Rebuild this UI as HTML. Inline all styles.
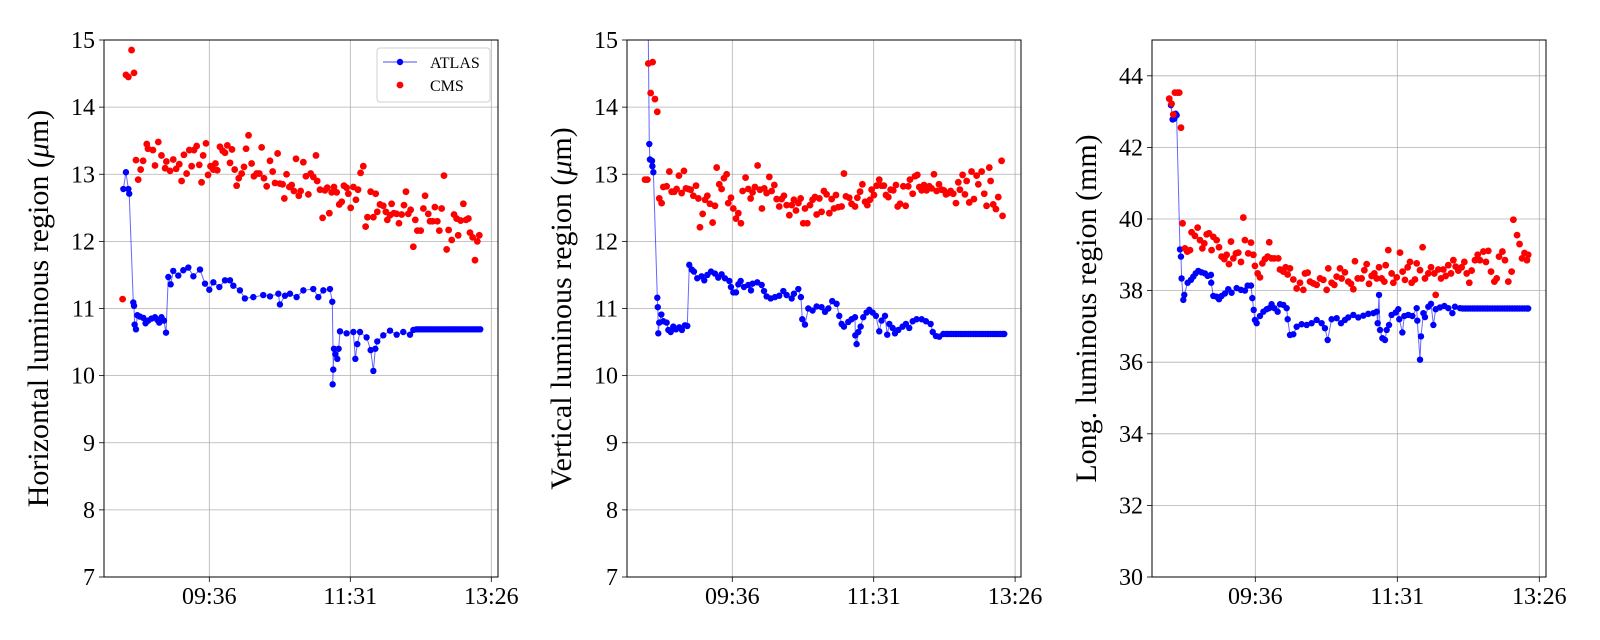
<!DOCTYPE html>
<html><head><meta charset="utf-8">
<style>
html,body{margin:0;padding:0;background:#fff;}
svg{display:block;font-family:"Liberation Serif","DejaVu Serif",serif;}
</style></head>
<body>
<svg id="fig" width="1600" height="640" viewBox="0 0 1600 640" xmlns="http://www.w3.org/2000/svg"></svg>
<script>
// ---------- shared tick data ----------
const xTickMinutes = [576, 691, 806];
const xTickLabels = ["09:36", "11:31", "13:26"];

// ---------- panel 1: horizontal (um) ----------
const p1AtlasT = [505.9,508,510,510.7,514,514.6,515.1,516.2,517.3,519.4,522.2,524,526.2,528.9,531.7,533.6,535.2,537,539,540.7,542.6,544.5,546.6,550.7,554.8,558.9,563,568.4,572.5,576,579.3,584.2,588.8,592.9,595.6,601,605,611.9,620,625.5,632.3,633.6,637.7,641.8,647.2,652.7,660.8,664.9,669,674.4,676.3,677.1,676.6,677.7,678.8,680.4,681.5,682.6,688,693.5,695.1,696.7,698.9,704.3,707.6,709.8,711.4,713,717.9,723.4,728.8,734.2,739.7,742.4,745,747,749,751,753,755,757,759,761,763,765,767,769,771,773,775,777,779,781,783,785,787,789,791,793,795,797];
const p1AtlasV = [12.78,13.03,12.78,12.71,11.09,11.04,10.76,10.69,10.90,10.88,10.86,10.78,10.82,10.85,10.87,10.83,10.79,10.87,10.82,10.64,11.47,11.36,11.56,11.49,11.57,11.61,11.48,11.58,11.37,11.28,11.39,11.32,11.42,11.42,11.34,11.27,11.15,11.17,11.20,11.18,11.22,11.06,11.19,11.22,11.17,11.27,11.29,11.17,11.27,11.29,11.10,10.09,9.87,10.40,10.32,10.25,10.40,10.66,10.63,10.65,10.25,10.47,10.65,10.57,10.38,10.07,10.40,10.51,10.60,10.67,10.61,10.65,10.61,10.68,10.69,10.69,10.69,10.69,10.69,10.69,10.69,10.69,10.69,10.69,10.69,10.69,10.69,10.69,10.69,10.69,10.69,10.69,10.69,10.69,10.69,10.69,10.69,10.69,10.69,10.69,10.69,10.69];
const p1CmsT = [505.3,508,510,512.6,514.6,516.2,518,520,522,525,526,530,531.7,534.4,537,540,541,544,546.6,549,551.5,553.4,555.3,557.5,559.7,561.6,563.5,565.7,567.8,569.7,571,573.3,575,577,579.3,581,582.5,584.7,586.9,588.8,590.7,592.9,594.5,596.7,598.3,600,602.4,604.3,606,608,610.5,612.4,614.6,616.8,618.7,620.6,622.8,625.5,627.7,629.6,631.7,633.6,635.8,637.2,639,641.3,643.2,645,646.7,649,650.5,652.7,654.8,656.8,658.7,660.8,663,664,666.3,668.4,670.3,672.2,673.9,675.8,677.7,679.9,682,684,685.8,688,689.4,691.3,693.5,695.6,697.3,699.4,701.6,703.5,705,707.6,709.8,711.7,713,715.2,717.9,720,721.2,723.4,724.7,726.6,728.8,730.7,732.9,734.8,736.4,738.3,740.2,742.4,744,745.7,748.4,750.6,752,754.6,756,758.2,760,762,763.6,765.5,767.4,769.6,771.2,773.7,775.6,777.7,779,781,783.2,785.4,787.3,788.6,790.8,792.7,794.6,796.2];
const p1CmsV = [11.14,14.48,14.45,14.85,14.51,13.21,12.92,13.07,13.2,13.45,13.38,13.36,13.13,13.48,13.28,13.09,13.19,13.05,13.22,13.08,13.15,12.9,13.29,13.01,13.36,13.12,13.36,13.42,13.14,12.88,13.28,13.46,12.99,13.12,13.07,13.16,13.06,13.41,13.35,13.32,13.43,13.17,13.37,13.07,12.83,12.94,13.01,13.11,13.38,13.58,13.16,12.97,13.01,13.01,13.4,12.94,12.82,13.2,13.04,12.87,13.31,12.86,12.85,12.64,13.0,12.81,12.84,12.75,13.23,12.68,12.75,13.18,12.97,12.7,13.01,12.96,13.28,12.9,12.77,12.35,12.76,12.8,12.42,12.73,12.81,12.73,12.55,12.59,12.83,12.8,12.71,12.5,12.81,12.62,12.77,13.02,13.12,12.22,12.36,12.74,12.36,12.71,12.44,12.55,12.53,12.44,12.32,12.39,12.56,12.42,12.41,12.27,12.4,12.54,12.74,12.41,12.47,11.92,12.32,12.16,12.16,12.49,12.68,12.41,12.3,12.3,12.51,12.3,12.16,12.49,12.98,11.88,12.17,12.02,12.4,12.34,12.09,12.31,12.56,12.32,12.34,12.13,12.06,11.72,12.0,12.09];

// ---------- panel 2: vertical (um) ----------
const p2AtlasT = [507.2,508.5,509,510.7,511,511.8,515,515.4,515.8,516.6,518.3,519.9,522.6,524,525.9,528,530.2,532.9,535,537.5,539.4,541,543,544.8,547.5,551,553.2,555.7,558.7,561.9,564.6,567.3,570,573.6,574.9,576.8,579,580.9,582.8,585.5,589,591.2,592.5,596.3,599.9,601.8,603.9,607.2,610.7,614.2,617.5,620.2,624.3,626.1,629.7,631.8,632.9,635.1,637.8,641.3,644.6,648.6,651.4,654.1,657.3,660.8,663,664.9,666.8,670.3,673,675.8,676,677.1,678.5,680.4,682.5,685.2,687.4,690.1,692.8,695.5,697.4,700.2,702,703.7,706.4,708.3,711,714.5,717.2,719.9,722.7,725.9,730,733.5,737.3,739,741.6,744.3,747.6,750,752,754,756,758,760,762,764,766,768,770,772,774,776,778,780,782,784,786,788,790,792,794,796,797.2];
const p2AtlasV = [16.0,13.45,13.22,13.2,13.12,13.03,11.16,11.02,10.63,10.79,10.91,10.81,10.79,10.68,10.65,10.73,10.69,10.72,10.68,10.75,10.74,11.65,11.58,11.55,11.45,11.48,11.42,11.5,11.55,11.52,11.46,11.51,11.45,11.41,11.32,11.24,11.24,11.36,11.41,11.32,11.35,11.27,11.37,11.39,11.35,11.26,11.18,11.15,11.17,11.19,11.26,11.2,11.15,11.22,11.29,11.17,10.84,10.76,11.0,10.97,11.03,11.02,10.95,11.0,11.11,11.07,10.89,10.77,10.73,10.8,10.84,10.87,10.6,10.47,10.65,10.73,10.87,10.94,10.98,10.94,10.89,10.66,10.82,10.89,10.61,10.77,10.71,10.63,10.68,10.73,10.77,10.71,10.81,10.84,10.84,10.81,10.77,10.65,10.59,10.58,10.62,10.62,10.62,10.62,10.62,10.62,10.62,10.62,10.62,10.62,10.62,10.62,10.62,10.62,10.62,10.62,10.62,10.62,10.62,10.62,10.62,10.62,10.62,10.62,10.62,10.62];
const p2CmsT = [505,506.9,507.7,509.6,511.2,513.1,515,516.6,518.5,519.9,522.6,524.8,526.7,528.8,530.7,532.6,534.8,536.7,538.3,540.2,542.1,544.3,546.5,548.4,549.7,551.9,553.8,555.7,557.8,560,561.9,563.3,565.4,567.3,569.2,571.4,572.7,574.9,576.8,579,580.9,583,584.4,586.8,589,590.9,592.5,594.4,596.6,598.5,600.1,602,603.9,606.1,608,610.2,612.1,614.2,616.1,618,620.2,622.4,624.3,626.1,627.8,629.7,631.6,633.7,635.1,637,639.2,641.3,643.2,644.6,646.8,648.6,650.5,652.7,654.9,656.8,658.7,660.3,662.2,664.9,666.8,668.4,671.1,673,675.8,677.7,679.9,681.8,684,685.8,688,689.3,691.2,693.4,695.5,697.4,699.3,701,702.9,704.8,706.9,709.1,710.5,712.4,715.1,717,719.1,720.5,722.7,724.6,726.5,728.1,730,731.9,734,736.2,738.1,740,742.2,744.1,746.2,748.1,749.8,751.7,753.6,755.7,757.9,759.8,761.1,763.3,765.2,766.6,768.7,770.6,772.5,774.7,776.1,778.8,780.9,782.8,785,786.1,788.2,790.4,792.3,795,795.8];
const p2CmsV = [12.92,12.92,14.65,14.21,14.67,14.12,13.93,12.64,12.57,12.81,12.82,13.04,12.74,12.74,12.78,12.98,12.72,13.05,12.79,12.78,12.77,12.68,12.83,12.64,12.21,12.41,12.62,12.68,12.56,12.28,12.53,13.1,12.85,12.78,12.94,13.0,12.57,12.65,12.49,12.34,12.42,12.27,12.75,12.95,12.78,12.64,12.73,12.81,13.13,12.77,12.49,12.79,12.72,12.96,12.75,12.84,12.63,12.52,12.63,12.68,12.54,12.39,12.54,12.62,12.46,12.57,12.64,12.27,12.49,12.27,12.54,12.62,12.66,12.4,12.64,12.44,12.75,12.7,12.42,12.63,12.49,12.69,12.51,12.52,13.01,12.67,12.65,12.56,12.52,12.65,12.74,12.85,12.59,12.54,12.62,12.77,12.69,12.83,12.92,12.83,12.83,12.69,12.66,12.77,12.76,12.84,12.52,12.56,12.82,12.53,12.82,12.92,12.71,12.97,12.99,12.81,12.76,12.84,12.76,12.82,12.79,13.0,12.75,12.85,12.77,12.76,12.7,12.72,12.75,12.71,12.57,12.88,12.77,12.99,12.7,12.9,12.58,13.04,12.63,12.98,12.85,13.04,12.71,12.53,13.1,12.9,12.55,12.48,12.66,13.2,12.38];

// ---------- panel 3: longitudinal (mm) ----------
const p3AtlasT = [507.7,509,510.4,511.5,512.3,515,515.8,516.3,517.7,518.5,521.2,523.9,525.8,527.7,529.8,532.5,535.2,537.4,540.1,540.3,542,544.7,546.6,548.7,551.4,554.1,556.8,560.9,564.4,567.6,569.8,572.5,573.6,574.7,575.7,577.1,579.8,582.5,585.2,587.3,589.2,591.4,594.1,596,598.7,601.4,602.2,604.1,606.8,609.5,613.5,617.6,621.6,625.7,629.7,632.4,634.6,637.8,641.9,645.4,648.6,651.3,655.4,659.4,663.5,667.5,671.6,674.3,675.1,676.2,677,678.9,681,682.4,684.3,686.4,689.7,691.8,692.6,695.1,696.7,699.9,703.2,706.7,707.2,709.4,710.2,712.1,713.4,716.1,718.3,720.2,722.1,725.6,729.1,732.3,735.6,737.7,741.8,744,746,748,750,752,754,756,758,760,762,764,766,768,770,772,774,776,778,780,782,784,786,788,790,792,794,796,797];
const p3AtlasV = [43.18,42.78,42.8,42.94,42.9,39.15,38.95,38.34,37.74,37.88,38.22,38.3,38.39,38.48,38.55,38.51,38.48,38.41,38.44,38.22,37.85,37.83,37.76,37.85,37.92,38.04,37.94,38.07,38.02,38.0,38.14,38.14,37.79,37.46,37.18,37.09,37.29,37.41,37.48,37.51,37.62,37.51,37.41,37.62,37.6,37.51,37.2,36.76,36.78,36.99,37.06,37.04,37.09,37.18,37.09,36.95,36.62,37.2,37.23,37.09,37.18,37.25,37.32,37.25,37.3,37.35,37.37,37.41,37.09,37.88,36.9,36.67,36.62,36.9,37.04,37.32,37.39,37.48,37.2,36.83,37.29,37.32,37.29,37.51,37.16,36.07,36.72,37.37,37.26,37.55,37.63,37.04,37.48,37.53,37.57,37.51,37.37,37.55,37.51,37.5,37.5,37.5,37.5,37.5,37.5,37.5,37.5,37.5,37.5,37.5,37.5,37.5,37.5,37.5,37.5,37.5,37.5,37.5,37.5,37.5,37.5,37.5,37.5,37.5,37.5,37.5,37.5];
const p3CmsT = [506.3,508.2,509.6,510.9,513.1,514.4,515.8,517.1,519,520.9,523.1,524.4,527.1,529.3,531.2,533.1,534.7,536.6,538.5,540.6,542,544.7,546.6,548.7,550.9,552.8,554.7,556.3,558.2,560.3,562.2,564.4,566.3,567.6,570.3,572.5,574.4,575.7,577.9,579.8,581.7,583.8,586,587.3,589.2,591.4,594.6,596,598.7,600.6,602.2,604.1,606.8,609.5,612.2,614.9,616.2,618.4,620.3,623,625.7,628.4,631.1,633.8,635.1,637.8,640,641.9,644.6,645.9,648.6,651.3,653.5,655.4,656.7,658.9,662.1,664.3,666.2,668.1,670.2,672.4,674.3,676.2,678.3,680.5,681.6,683.7,686.4,687.8,690.5,693.2,695.3,697.2,699.4,701.3,702.6,705.3,706.7,709.4,711.5,713.4,716.1,718.3,721,722.1,724.2,726.4,728.3,730.2,732.3,734.5,736.4,738.3,740.4,743.1,745.3,747.2,749.3,751.2,753.9,756.1,757.9,760.7,762.8,764.7,766.9,769.6,771.5,773.4,776.1,778.2,780.9,783.6,785,788,790,792,794,796,797];
const p3CmsV = [43.36,43.22,42.92,43.53,43.53,43.53,42.55,39.88,39.18,39.09,39.13,39.63,39.53,39.76,39.41,39.18,39.32,39.57,39.6,39.13,39.5,39.41,39.21,38.95,38.88,39.0,38.74,39.37,38.9,39.04,39.06,38.8,40.04,39.41,39.04,39.34,39.0,38.69,38.48,38.37,38.76,38.88,38.95,39.35,38.9,38.9,38.9,38.59,38.53,38.65,38.45,38.62,38.31,38.06,38.22,38.02,38.48,38.5,38.25,38.2,38.16,38.34,38.3,38.02,38.62,38.22,38.16,38.39,38.62,38.34,38.51,38.25,38.19,38.04,38.82,38.34,38.34,38.57,38.74,38.19,38.41,38.48,38.34,38.65,38.34,38.25,38.71,39.13,38.48,38.22,38.37,39.06,38.53,38.3,38.65,38.8,38.22,38.31,38.76,38.57,39.21,38.34,38.48,38.65,38.48,37.88,38.59,38.34,38.59,38.41,38.71,38.48,38.85,38.67,38.56,38.65,38.8,38.48,38.22,38.56,38.85,39.0,38.85,39.09,38.8,39.11,38.53,38.25,38.34,38.95,39.09,38.85,38.25,38.53,39.98,39.55,39.3,38.9,39.05,38.85,39.0];

const p1YTicks = [7,8,9,10,11,12,13,14,15];
const p2YTicks = [7,8,9,10,11,12,13,14,15];
const p3YTicks = [30,32,34,36,38,40,42,44];

const NS = "http://www.w3.org/2000/svg";
const svg = document.getElementById("fig");
function mk(tag, attrs, parent){
  const e = document.createElementNS(NS, tag);
  for (const k in attrs) e.setAttribute(k, attrs[k]);
  (parent||svg).appendChild(e);
  return e;
}

const panels = [
  {key:"horizontal", left:104, t0:576, t1:691, px0:209.3, px1:350.3, yMin:7, yMax:15, yTicks:p1YTicks,
   title:["Horizontal luminous region (","μ","m)"], atT:p1AtlasT, atV:p1AtlasV, cmT:p1CmsT, cmV:p1CmsV, legend:true},
  {key:"vertical", left:627, t0:576, t1:691, px0:732.3, px1:873.7, yMin:7, yMax:15, yTicks:p2YTicks,
   title:["Vertical luminous region (","μ","m)"], atT:p2AtlasT, atV:p2AtlasV, cmT:p2CmsT, cmV:p2CmsV, legend:false},
  {key:"longitudinal", left:1152, t0:576, t1:691, px0:1255.3, px1:1397.3, yMin:30, yMax:45, yTicks:p3YTicks,
   title:["Long. luminous region (mm)"], atT:p3AtlasT, atV:p3AtlasV, cmT:p3CmsT, cmV:p3CmsV, legend:false}
];
const TOP = 40, BOT = 577, W = 394;

panels.forEach((p, pi) => {
  const xs = t => p.px0 + (t - p.t0) * (p.px1 - p.px0) / (p.t1 - p.t0);
  const ys = v => BOT - (v - p.yMin) * (BOT - TOP) / (p.yMax - p.yMin);
  const g = mk("g", {});
  
  

  const clip = mk("clipPath", {id:"clip"+pi}, g);
  mk("rect", {x:p.left, y:TOP, width:W, height:BOT-TOP}, clip);

  // grid
  const grid = mk("g", {stroke:"#b0b0b0", "stroke-width":"0.8"}, g);
  
  
  p.yTicks.forEach(v => { const y = ys(v); mk("line", {x1:p.left, x2:p.left+W, y1:y, y2:y}, grid); });
  xTickMinutes.forEach(t => { const x = xs(t); mk("line", {x1:x, x2:x, y1:TOP, y2:BOT}, grid); });

  // y ticks
  p.yTicks.forEach(v => {
    const y = ys(v);
    mk("line", {x1:p.left-5, x2:p.left, y1:y, y2:y, stroke:"#000", "stroke-width":"0.8"}, g);
    const tx = mk("text", {x:p.left-9, y:y+8, "text-anchor":"end", "font-size":"24", fill:"#000"}, g);
    
    
    tx.textContent = String(v);
  });
  // x ticks
  xTickMinutes.forEach((t, i) => {
    const x = xs(t);
    mk("line", {x1:x, x2:x, y1:BOT, y2:BOT+5, stroke:"#000", "stroke-width":"0.8"}, g);
    const tx = mk("text", {x:x, y:BOT+27, "text-anchor":"middle", "font-size":"24", fill:"#000"}, g);
    
    
    tx.textContent = xTickLabels[i];
  });

  // y title
  const tcx = p.left - 56, tcy = (TOP + BOT) / 2;
  const tt = mk("text", {x:tcx, y:tcy, "text-anchor":"middle", "font-size":"30", fill:"#000",
    transform:`rotate(-90 ${tcx} ${tcy})`}, g);
  
  
  if (p.title.length === 3) {
    const a = mk("tspan", {}, tt); a.textContent = p.title[0];
    const b = mk("tspan", {"font-style":"italic"}, tt); b.textContent = p.title[1];
    const c = mk("tspan", {}, tt); c.textContent = p.title[2];
  } else tt.textContent = p.title[0];

  // data
  const dg = mk("g", {"clip-path":`url(#clip${pi})`}, g);
  let d = "";
  p.atT.forEach((t, i) => { d += (i ? "L" : "M") + xs(t).toFixed(1) + "," + ys(p.atV[i]).toFixed(1); });
  const line = mk("path", {d:d, fill:"none", stroke:"#0000ff", "stroke-opacity":"0.6", "stroke-width":"1"}, dg);
  
  
  p.atT.forEach((t, i) => {
    const c = mk("circle", {cx:xs(t), cy:ys(p.atV[i]), r:3.2, fill:"#0000ff"}, dg);
    
    
  });
  p.cmT.forEach((t, i) => {
    const c = mk("circle", {cx:xs(t), cy:ys(p.cmV[i]), r:3.4, fill:"#ff0000"}, dg);
    
    
  });

  // frame
  const fr = mk("rect", {x:p.left, y:TOP, width:W, height:BOT-TOP, fill:"none", stroke:"#000", "stroke-width":"1"}, g);
  
  

  if (p.legend) {
    const lg = mk("g", {}, g);
    
    
    mk("rect", {x:377, y:48, width:113, height:54, rx:3, fill:"#fff", "fill-opacity":"0.85", stroke:"#d0d0d0", "stroke-width":"1"}, lg);
    const e1 = mk("g", {}, lg);
    
    
    mk("line", {x1:383, x2:417, y1:62, y2:62, stroke:"#0000ff", "stroke-opacity":"0.7", "stroke-width":"1"}, e1);
    mk("circle", {cx:400, cy:62, r:3.2, fill:"#0000ff"}, e1);
    const l1 = mk("text", {x:430, y:68, "font-size":"16", fill:"#000"}, e1); l1.textContent = "ATLAS";
    const e2 = mk("g", {}, lg);
    
    
    mk("circle", {cx:400, cy:85, r:3.4, fill:"#ff0000"}, e2);
    const l2 = mk("text", {x:430, y:91, "font-size":"16", fill:"#000"}, e2); l2.textContent = "CMS";
  }
});
</script>
</body></html>
